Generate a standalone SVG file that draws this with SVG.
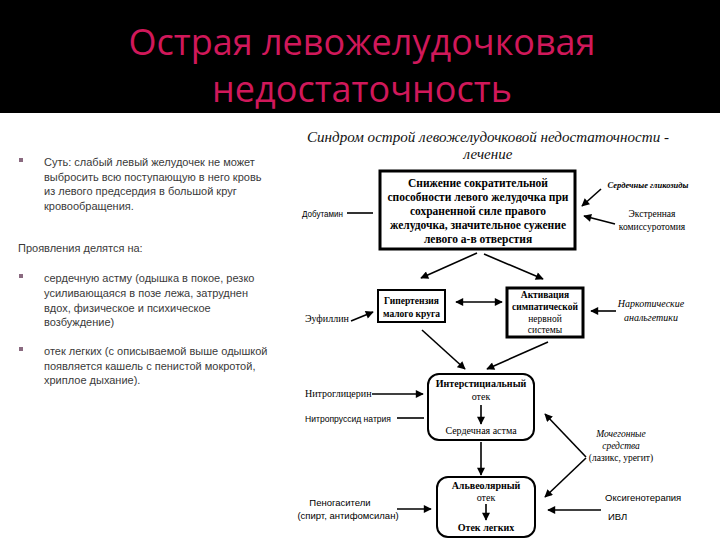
<svg xmlns="http://www.w3.org/2000/svg" width="720" height="540" viewBox="0 0 720 540">
<defs>
<marker id="ah" viewBox="0 0 10 10" refX="9" refY="5" markerWidth="9" markerHeight="8" orient="auto-start-reverse" markerUnits="userSpaceOnUse">
<path d="M0,0 L10,5 L0,10 z" fill="#000"/>
</marker>
<style>
.title{font-family:"Open Sans","Noto Sans",sans-serif;font-size:36px;fill:#d0185a;text-anchor:middle}
.body{font-family:"Liberation Sans","Noto Sans",sans-serif;font-size:11px;fill:#3a3a3a}
.bul{fill:#8a6a80}
.dtitle{font-family:"Liberation Serif",serif;font-style:italic;font-size:15px;fill:#111;text-anchor:middle}
.bx{font-family:"Liberation Serif",serif;font-weight:bold;font-size:11.5px;fill:#000;text-anchor:middle}
.bxs{font-family:"Liberation Serif",serif;font-size:10px;fill:#000;text-anchor:middle}
.lbl{font-family:"Liberation Serif",serif;font-size:10px;fill:#000}
.lbls{font-family:"Liberation Sans",sans-serif;font-size:9.5px;fill:#000}
.it{font-family:"Liberation Serif",serif;font-style:italic;font-size:10px;fill:#000;text-anchor:middle}
.thick{fill:#fff;stroke:#000;stroke-width:3}
.thin{fill:#fff;stroke:#000;stroke-width:2}
.c{stroke:#000;stroke-width:1.6;fill:none}
.a{marker-end:url(#ah)}
</style>
</defs>
<rect x="0" y="0" width="720" height="540" fill="#fff"/>
<rect x="0" y="0" width="720" height="113" fill="#000"/>
<g id="title">
<text class="title" x="362" y="55">Острая левожелудочковая</text>
<text class="title" x="362" y="102">недостаточность</text>
</g>
<g id="left-text">
<rect class="bul" x="19" y="158" width="4" height="4"/>
<text class="body" x="44" y="166">Суть: слабый левый желудочек не может</text>
<text class="body" x="44" y="181">выбросить всю поступающую в него кровь</text>
<text class="body" x="44" y="195">из левого предсердия в большой круг</text>
<text class="body" x="44" y="210">кровообращения.</text>
<text class="body" x="18" y="252">Проявления делятся на:</text>
<rect class="bul" x="19" y="274" width="4" height="4"/>
<text class="body" x="44" y="282">сердечную астму (одышка в покое, резко</text>
<text class="body" x="44" y="297">усиливающаяся в позе лежа, затруднен</text>
<text class="body" x="44" y="312">вдох, физическое и психическое</text>
<text class="body" x="44" y="326">возбуждение)</text>
<rect class="bul" x="19" y="347" width="4" height="4"/>
<text class="body" x="44" y="355">отек легких (с описываемой выше одышкой</text>
<text class="body" x="44" y="370">появляется кашель с пенистой мокротой,</text>
<text class="body" x="44" y="384">хриплое дыхание).</text>
</g>
<g id="diagram-title">
<text class="dtitle" x="488" y="142" textLength="362" lengthAdjust="spacingAndGlyphs">Синдром острой левожелудочковой недостаточности -</text>
<text class="dtitle" x="488" y="159">лечение</text>
</g>
<g id="node-main">
<rect class="thick" x="380" y="171" width="195" height="78"/>
<text class="bx" x="478" y="187">Снижение сократительной</text>
<text class="bx" x="478" y="201">способности левого желудочка при</text>
<text class="bx" x="478" y="215">сохраненной силе правого</text>
<text class="bx" x="478" y="229">желудочка, значительное сужение</text>
<text class="bx" x="478" y="243">левого а-в отверстия</text>
</g>
<g id="node-hyp">
<rect class="thin" x="378" y="290" width="67" height="32"/>
<text class="bx" x="411.5" y="304" style="font-size:9.5px">Гипертензия</text>
<text class="bx" x="411.5" y="317" style="font-size:9.5px">малого круга</text>
</g>
<g id="node-symp">
<rect class="thick" x="507" y="288" width="76" height="49"/>
<text class="bx" x="545" y="298" style="font-size:9.5px">Активация</text>
<text class="bx" x="545" y="310" style="font-size:9.5px">симпатической</text>
<text class="bxs" x="545" y="322" style="font-size:9.5px">нервной</text>
<text class="bxs" x="545" y="333" style="font-size:9.5px">системы</text>
</g>
<g id="node-inter">
<rect class="thin" x="428" y="374" width="106" height="66" rx="11"/>
<text class="bx" x="481" y="387" style="font-size:10px">Интерстициальный</text>
<text class="bxs" x="481" y="400">отек</text>
<text class="bxs" x="481" y="434">Сердечная астма</text>
</g>
<g id="node-alv">
<rect class="thin" x="437" y="477" width="98" height="60" rx="11"/>
<text class="bx" x="486" y="489" style="font-size:10px">Альвеолярный</text>
<text class="bxs" x="486" y="501">отек</text>
<text class="bx" x="486" y="531" style="font-size:10px">Отек легких</text>
</g>
<g id="labels">
<text class="lbls" x="302" y="217" textLength="41" lengthAdjust="spacingAndGlyphs">Добутамин</text>
<text class="it" x="648" y="188" style="font-weight:bold;font-size:8.5px">Сердечные гликозиды</text>
<text class="bxs" x="652" y="217" style="font-size:9.5px">Экстренная</text>
<text class="bxs" x="652" y="230" style="font-size:9.5px">комиссуротомия</text>
<text class="lbl" x="305" y="322">Эуфиллин</text>
<text class="it" x="651" y="307">Наркотические</text>
<text class="it" x="651" y="321">анальгетики</text>
<text class="lbl" x="305" y="397">Нитроглицерин</text>
<text class="lbls" x="305" y="422" textLength="86" lengthAdjust="spacingAndGlyphs">Нитропруссид натрия</text>
<text class="it" x="621" y="437" style="font-size:9.5px">Мочегонные</text>
<text class="it" x="621" y="449" style="font-size:9.5px">средства</text>
<text class="bxs" x="621" y="461" style="font-size:9.5px">(лазикс, урегит)</text>
<text class="lbls" x="340" y="506" text-anchor="middle">Пеногасители</text>
<text class="lbls" x="348" y="519" text-anchor="middle">(спирт, антифомсилан)</text>
<text class="lbls" x="605" y="501">Оксигенотерапия</text>
<text class="lbls" x="608" y="520">ИВЛ</text>
</g>
<g id="connectors">
<line class="c" x1="347" y1="213" x2="373" y2="213"/>
<line class="c a" x1="477" y1="253" x2="421" y2="278"/>
<line class="c a" x1="484" y1="254" x2="543" y2="279"/>
<line class="c a" x1="601" y1="189" x2="582" y2="206"/>
<line class="c a" x1="615" y1="224" x2="584" y2="216"/>
<line class="c a" x1="351" y1="321" x2="373" y2="312"/>
<line class="c a" x1="456" y1="302" x2="502" y2="302" style="marker-start:url(#ah)"/>
<line class="c a" x1="616" y1="311" x2="591" y2="311"/>
<line class="c a" x1="422" y1="330" x2="465" y2="369"/>
<line class="c a" x1="548" y1="342" x2="487" y2="369"/>
<line class="c a" x1="372" y1="394" x2="423" y2="394"/>
<line class="c" x1="397" y1="418" x2="424" y2="418"/>
<line class="c a" x1="481" y1="405" x2="481" y2="424"/>
<line class="c a" x1="481" y1="442" x2="481" y2="475"/>
<line class="c a" x1="586" y1="457" x2="545" y2="414"/>
<line class="c a" x1="586" y1="458" x2="545" y2="497"/>
<line class="c a" x1="397" y1="509" x2="431" y2="509"/>
<line class="c a" x1="601" y1="510" x2="548" y2="510"/>
<line class="c a" x1="486" y1="504" x2="486" y2="520"/>
</g>
</svg>
